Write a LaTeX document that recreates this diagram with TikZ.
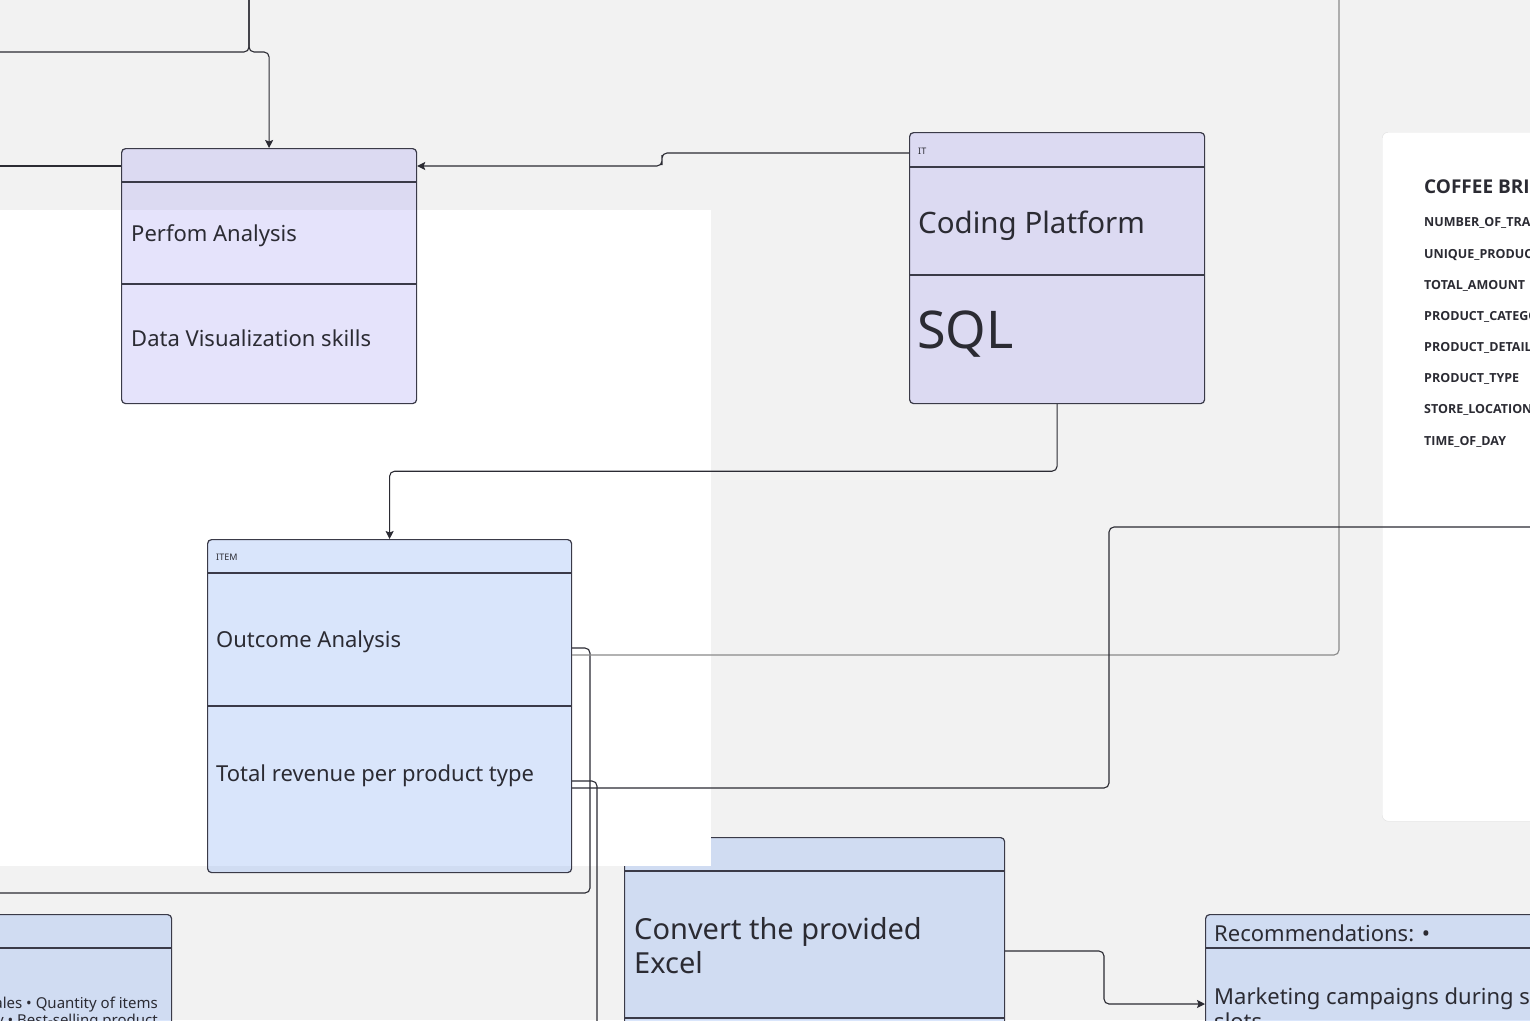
\documentclass[tikz,border=0pt]{standalone}
\usepackage{fontspec}
\setmainfont{Noto Sans}
\newfontfamily\panelfont{Open Sans}
\usetikzlibrary{arrows.meta,calc}
\definecolor{canvas}{HTML}{F2F2F2}
\definecolor{lav}{RGB}{155,147,243}
\definecolor{sky}{RGB}{107,155,243}
\definecolor{ink}{HTML}{2B2B33}
\definecolor{edge}{HTML}{3A3A48}
\definecolor{faint}{HTML}{8A8A8A}
\newcommand{\fs}[2]{\fontsize{#1}{#2}\selectfont}

\begin{document}
\begin{tikzpicture}[x=1pt,y=-1pt]
    \tikzset{card/.style={draw=edge, line width=1.2pt, rounded corners=4pt, anchor=north west, inner sep=0pt}}
    \tikzset{lavcard/.style={card, fill=lav, fill opacity=0.25}}
    \tikzset{bluecard/.style={card, fill=sky, fill opacity=0.25}}
    \tikzset{rowline/.style={draw=edge, line width=1.2pt}}
    \tikzset{txt/.style={anchor=west, inner sep=0pt, text=ink, align=left}}
    \tikzset{link/.style={draw=ink, line width=1.1pt, rounded corners=5pt}}
    \tikzset{arrowlink/.style={link, -{Stealth[length=8pt,width=8pt,inset=1.5pt]}}}

    \useasboundingbox (0,0) rectangle (1530,1020);
    \clip (0,0) rectangle (1530,1020);
    \fill[canvas] (0,0) rectangle (1530,1020);

    % box that the white sheet overlaps
    \node[bluecard, minimum width=380, minimum height=220] (Convert) at (624,837) {};
    \draw[rowline] ([yshift=-34pt]Convert.north west) -- ([yshift=-34pt]Convert.north east);
    \draw[rowline] ([yshift=-181pt]Convert.north west) -- ([yshift=-181pt]Convert.north east);
    \node[txt, font=\fs{29}{34}] (ConvertText) at (634,946) {Convert the provided\\Excel};

    % white sheets
    \fill[white] (0,210) rectangle (711,866);
    \node[draw=black!12, fill=white, rounded corners=6pt, anchor=north west, minimum width=170, minimum height=689, inner sep=0pt] (Panel) at (1382,132) {};
    \node[txt, font=\panelfont\bfseries\fs{19}{21}] (PanelTitle) at (1424,187) {COFFEE BRIEF};
    \foreach \field/\ypos in {NUMBER\_OF\_TRANSACTIONS/221, UNIQUE\_PRODUCTS/253, TOTAL\_AMOUNT/284, PRODUCT\_CATEGORY/315, PRODUCT\_DETAIL/346, PRODUCT\_TYPE/377, STORE\_LOCATION/408, TIME\_OF\_DAY/440}{
        \node[txt, font=\panelfont\bfseries\fs{12.5}{14}] (Field\ypos) at (1424,\ypos+2) {\field};
    }

    % cards
    \node[lavcard, minimum width=295, minimum height=255] (Perfom) at (121,148) {};
    \draw[rowline] ([yshift=-34pt]Perfom.north west) -- ([yshift=-34pt]Perfom.north east);
    \draw[rowline] ([yshift=-136pt]Perfom.north west) -- ([yshift=-136pt]Perfom.north east);
    \node[txt, font=\fs{22}{26}] (PerfomText) at (131,236) {Perfom Analysis};
    \node[txt, font=\fs{22}{26}] (VizText) at (131,338) {Data Visualization skills};

    \node[lavcard, minimum width=295, minimum height=271] (Coding) at (909,132) {};
    \draw[rowline] ([yshift=-35pt]Coding.north west) -- ([yshift=-35pt]Coding.north east);
    \draw[rowline] ([yshift=-143pt]Coding.north west) -- ([yshift=-143pt]Coding.north east);
    \node[txt, font=\fs{9}{10}] (ITTag) at (918,151) {IT};
    \node[txt, font=\fs{29.5}{34}] (CodingText) at (918,226) {Coding Platform};
    \node[txt, font=\fs{52}{56}] (SQLText) at (917,334) {SQL};

    \node[bluecard, minimum width=364, minimum height=333] (Outcome) at (207,539) {};
    \draw[rowline] ([yshift=-34pt]Outcome.north west) -- ([yshift=-34pt]Outcome.north east);
    \draw[rowline] ([yshift=-167pt]Outcome.north west) -- ([yshift=-167pt]Outcome.north east);
    \node[txt, font=\fs{9}{10}] (ItemTag) at (216,557) {ITEM};
    \node[txt, font=\fs{22}{26}] (OutcomeText) at (216,642) {Outcome Analysis};
    \node[txt, font=\fs{22}{26}] (RevenueText) at (216,776) {Total revenue per product type};

    \node[bluecard, minimum width=191, minimum height=150] (Sales) at (-20,914) {};
    \draw[rowline] ([yshift=-34pt]Sales.north west) -- ([yshift=-34pt]Sales.north east);
    \node[txt, anchor=east, align=right, font=\fs{15}{17}] (SalesText) at (158,1013) {Sales • Quantity of items\\Daily • Best-selling product};

    \node[bluecard, minimum width=360, minimum height=150] (Recommend) at (1205,914) {};
    \draw[rowline] ([yshift=-34pt]Recommend.north west) -- ([yshift=-34pt]Recommend.north east);
    \node[txt, font=\fs{22}{26}] (RecTag) at (1214,933) {Recommendations: •};
    \node[txt, anchor=north west, font=\fs{22}{25}] (RecText) at (1214,988) {Marketing campaigns during slow\\slots};

    % free ends off the sheet
    \coordinate (TopIn) at (249,-10);
    \coordinate (LeftIn) at (-10,52);
    \coordinate (LeftMid) at (-10,166);
    \coordinate (LeftLow) at (-10,893);
    \coordinate (TopOut) at (1339,-10);
    \coordinate (BottomOut) at (597,1040);
    \coordinate (RightOut) at (1560,527);

    % connectors
    \draw[arrowlink] (TopIn) -- (249,52) -| (Perfom.north);
    \draw[link] (LeftIn) -| (TopIn);
    \draw[link] (LeftMid) -- ([yshift=-18pt]Perfom.north west);
    \draw[arrowlink] ([yshift=-21pt]Coding.north west) -| (662,160) |- ([yshift=-18pt]Perfom.north east);
    \draw[arrowlink] (Coding.south) -- ++(0,67) -| (Outcome.north);
    \draw[link] ([yshift=-109pt]Outcome.north east) -| (590,893) -- (LeftLow);
    \draw[link, draw=faint] ([yshift=-116pt]Outcome.north east) -| (TopOut);
    \draw[link] ([yshift=-242pt]Outcome.north east) -| (BottomOut);
    \draw[link] ([yshift=-249pt]Outcome.north east) -| (1109,527) -- (RightOut);
    \draw[arrowlink] ([yshift=-114pt]Convert.north east) -| (1104,980) |- ([yshift=-90pt]Recommend.north west);
\end{tikzpicture}
\end{document}
